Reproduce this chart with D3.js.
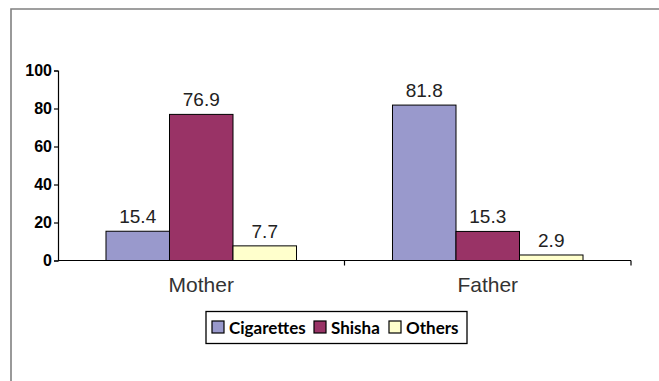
<!DOCTYPE html>
<html><head><meta charset="utf-8">
<script src="https://cdn.jsdelivr.net/npm/d3@7"></script>
<style>body{margin:0;background:#fff}svg{display:block}
.arial{font-family:'Liberation Sans',Arial,sans-serif}
.leg{font-family:Lato,sans-serif}
</style>
</head><body>
<script>
const categories = ["Mother", "Father"];
const seriesNames = ["Cigarettes", "Shisha", "Others"];
const cigarettes = [15.4, 81.8];
const shisha = [76.9, 15.3];
const others = [7.7, 2.9];
const yTicks = [0, 20, 40, 60, 80, 100];
const colors = ["#9999cc", "#993366", "#ffffcc"];

const seriesValues = [cigarettes, shisha, others];
const W = 659, H = 381;
const svg = d3.select("body").append("svg").attr("width", W).attr("height", H);

svg.append("path").attr("d", `M11,${H} V9 H${W}`).attr("fill", "none")
  .attr("stroke", "#808080").attr("stroke-width", 1.6);

const x0 = d3.scaleBand().domain(categories).range([58, 631]).paddingInner(0.335).paddingOuter(0.1675);
const x1 = d3.scaleBand().domain(seriesNames).range([0, x0.bandwidth()]);
const y = d3.scaleLinear().domain([0, 100]).range([260.5, 70.5]);

categories.forEach((c, ci) => {
  const g = svg.append("g").attr("transform", `translate(${x0(c)},0)`);
  seriesNames.forEach((s, si) => {
    const v = seriesValues[si][ci];
    g.append("rect").attr("x", x1(s)).attr("y", y(v))
      .attr("width", x1.bandwidth()).attr("height", y(0) - y(v))
      .attr("fill", colors[si]).attr("stroke", "#000").attr("stroke-width", 1);
    g.append("text").attr("class", "arial").attr("x", x1(s) + x1.bandwidth() / 2).attr("y", y(v) - 8)
      .attr("text-anchor", "middle").style("font-size", "19px").attr("fill", "#222").text(v.toFixed(1));
  });
});

const yAxis = svg.append("g").attr("transform", "translate(58,0)")
  .call(d3.axisLeft(y).tickValues(yTicks).tickSize(4).tickPadding(2).tickFormat(d3.format("d")));
yAxis.attr("font-family", null).attr("font-size", null);
yAxis.select(".domain").attr("stroke", "#000").attr("stroke-width", 1.2);
yAxis.selectAll(".tick line").attr("stroke", "#000").attr("stroke-width", 1.2);
yAxis.selectAll("text").attr("class", "arial").style("font-weight", "bold").style("font-size", "16px").attr("fill", "#000");

const xAxisG = svg.append("g").attr("transform", `translate(0,${y(0)})`);
xAxisG.append("line").attr("x1", 58).attr("x2", 631).attr("stroke", "#000").attr("stroke-width", 1.2);
const boundaries = [x0.step() + 58, 2 * x0.step() + 58];
boundaries.forEach(b => xAxisG.append("line").attr("x1", b).attr("x2", b).attr("y1", 0).attr("y2", 5)
  .attr("stroke", "#000").attr("stroke-width", 1.2));
categories.forEach(c => xAxisG.append("text").attr("class", "arial").attr("x", x0(c) + x0.bandwidth() / 2).attr("y", 31)
  .attr("text-anchor", "middle").style("font-size", "21px").attr("fill", "#333").text(c));

const leg = svg.append("g");
leg.append("rect").attr("x", 206).attr("y", 311.5).attr("width", 261).attr("height", 32)
  .attr("fill", "#fff").attr("stroke", "#000").attr("stroke-width", 1.3);
const swX = [212, 314, 389];
const txX = [229, 331, 406];
seriesNames.forEach((s, i) => {
  leg.append("rect").attr("x", swX[i]).attr("y", 321).attr("width", 12).attr("height", 12)
    .attr("fill", colors[i]).attr("stroke", "#000").attr("stroke-width", 1.2);
  leg.append("text").attr("class", "leg").attr("x", txX[i]).attr("y", 333.5)
    .style("font-weight", "bold").style("font-size", "17px").attr("fill", "#000").text(s);
});
</script>
</body></html>
